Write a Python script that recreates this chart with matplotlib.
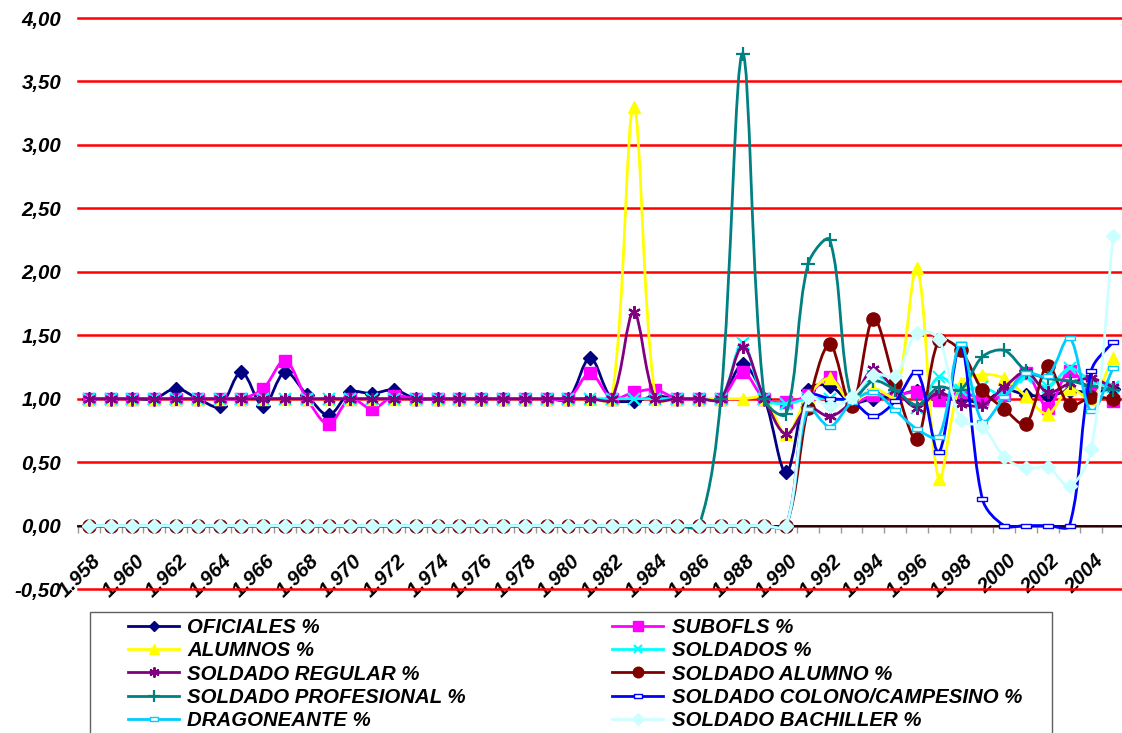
import numpy as np
import matplotlib
matplotlib.use('Agg')
import matplotlib.pyplot as plt
import matplotlib.transforms as mtransforms
from matplotlib.path import Path
from matplotlib.patches import PathPatch, Rectangle
from matplotlib.lines import Line2D
from matplotlib.font_manager import FontProperties

# ---- data (ratios by year) ----
years = list(range(1958, 2006))

oficiales = [1.00, 1.00, 1.00, 1.00, 1.08, 1.00, 0.94, 1.21, 0.94, 1.21,   # 1958-67
             1.03, 0.87, 1.05, 1.04, 1.07, 1.00, 1.00, 1.00, 1.00, 1.00,   # 1968-77
             1.00, 1.00, 1.00, 1.32, 1.00, 0.98, 1.02, 1.00, 1.00, 1.00,   # 1978-87
             1.27, 1.00, 0.42, 1.07, 1.10, 0.97, 1.00, 1.02, 1.06, 1.00,   # 1988-97
             1.00, 0.97, 1.07, 1.03, 1.02, 1.06, 1.05, 1.08]               # 1998-05
subofls = [1.00, 1.00, 1.00, 1.00, 1.00, 1.00, 1.00, 1.00, 1.08, 1.30,
           1.00, 0.80, 1.00, 0.92, 1.02, 1.00, 1.00, 1.00, 1.00, 1.00,
           1.00, 1.00, 1.00, 1.20, 1.00, 1.05, 1.07, 1.00, 1.00, 1.00,
           1.21, 1.00, 0.97, 1.03, 1.17, 0.97, 1.03, 1.03, 1.05, 0.99,
           1.05, 1.00, 1.03, 1.20, 0.93, 1.22, 1.05, 0.98]
alumnos = [1.00, 1.00, 1.00, 1.00, 1.00, 1.00, 1.00, 1.00, 1.00, 1.00,
           1.00, 1.00, 1.00, 1.00, 1.00, 1.00, 1.00, 1.00, 1.00, 1.00,
           1.00, 1.00, 1.00, 1.00, 1.00, 3.30, 1.00, 1.00, 1.00, 1.00,
           1.00, 1.00, 0.72, 1.02, 1.16, 0.97, 1.08, 1.02, 2.03, 0.37,
           1.12, 1.19, 1.16, 1.02, 0.88, 1.08, 1.00, 1.32]
soldados = [1.00, 1.00, 1.00, 1.00, 1.00, 1.00, 1.00, 1.00, 1.00, 1.00,
            1.00, 1.00, 1.00, 1.00, 1.00, 1.00, 1.00, 1.00, 1.00, 1.00,
            1.00, 1.00, 1.00, 1.00, 1.00, 1.00, 1.00, 1.00, 1.00, 1.00,
            1.44, 1.00, 0.96, 1.00, 1.00, 1.00, 1.18, 1.09, 0.93, 1.17,
            1.07, 1.09, 1.03, 1.17, 1.09, 1.24, 1.14, 1.09]
soldado_regular = [1.00, 1.00, 1.00, 1.00, 1.00, 1.00, 1.00, 1.00, 1.00, 1.00,
                   1.00, 1.00, 1.00, 1.00, 1.00, 1.00, 1.00, 1.00, 1.00, 1.00,
                   1.00, 1.00, 1.00, 1.00, 1.00, 1.68, 1.00, 1.00, 1.00, 1.00,
                   1.41, 1.00, 0.72, 0.93, 0.86, 0.98, 1.23, 1.07, 0.93, 1.05,
                   0.96, 0.95, 1.09, 1.21, 1.05, 1.12, 1.16, 1.09]
soldado_alumno = [0.00, 0.00, 0.00, 0.00, 0.00, 0.00, 0.00, 0.00, 0.00, 0.00,
                  0.00, 0.00, 0.00, 0.00, 0.00, 0.00, 0.00, 0.00, 0.00, 0.00,
                  0.00, 0.00, 0.00, 0.00, 0.00, 0.00, 0.00, 0.00, 0.00, 0.00,
                  0.00, 0.00, 0.00, 0.93, 1.43, 0.94, 1.63, 1.12, 0.68, 1.46,
                  1.38, 1.07, 0.92, 0.80, 1.26, 0.95, 1.01, 1.00]
soldado_profesional = [0.00, 0.00, 0.00, 0.00, 0.00, 0.00, 0.00, 0.00, 0.00, 0.00,
                       0.00, 0.00, 0.00, 0.00, 0.00, 0.00, 0.00, 0.00, 0.00, 0.00,
                       0.00, 0.00, 0.00, 0.00, 0.00, 0.00, 0.00, 0.00, 0.00, 1.00,
                       3.72, 1.00, 0.88, 2.06, 2.25, 1.00, 1.14, 1.07, 0.95, 1.09,
                       1.07, 1.33, 1.38, 1.22, 1.16, 1.14, 1.10, 1.07]
soldado_colono = [0.00, 0.00, 0.00, 0.00, 0.00, 0.00, 0.00, 0.00, 0.00, 0.00,
                  0.00, 0.00, 0.00, 0.00, 0.00, 0.00, 0.00, 0.00, 0.00, 0.00,
                  0.00, 0.00, 0.00, 0.00, 0.00, 0.00, 0.00, 0.00, 0.00, 0.00,
                  0.00, 0.00, 0.00, 1.02, 1.00, 0.98, 0.86, 0.98, 1.21, 0.58,
                  1.43, 0.21, 0.00, 0.00, 0.00, 0.00, 1.22, 1.45]
dragoneante = [0.00, 0.00, 0.00, 0.00, 0.00, 0.00, 0.00, 0.00, 0.00, 0.00,
               0.00, 0.00, 0.00, 0.00, 0.00, 0.00, 0.00, 0.00, 0.00, 0.00,
               0.00, 0.00, 0.00, 0.00, 0.00, 0.00, 0.00, 0.00, 0.00, 0.00,
               0.00, 0.00, 0.00, 0.92, 0.78, 0.97, 1.05, 0.91, 0.76, 0.70,
               1.43, 0.82, 1.01, 1.20, 1.18, 1.48, 0.90, 1.24]
soldado_bachiller = [0.00, 0.00, 0.00, 0.00, 0.00, 0.00, 0.00, 0.00, 0.00, 0.00,
                     0.00, 0.00, 0.00, 0.00, 0.00, 0.00, 0.00, 0.00, 0.00, 0.00,
                     0.00, 0.00, 0.00, 0.00, 0.00, 0.00, 0.00, 0.00, 0.00, 0.00,
                     0.00, 0.00, 0.00, 1.01, 0.94, 1.01, 1.19, 1.18, 1.52, 1.47,
                     0.83, 0.78, 0.54, 0.45, 0.46, 0.31, 0.60, 2.28]

year_labels = ['1.958', '1.960', '1.962', '1.964', '1.966', '1.968', '1.970', '1.972',
               '1.974', '1.976', '1.978', '1.980', '1.982', '1.984', '1.986', '1.988',
               '1.990', '1.992', '1.994', '1.996', '1.998', '2000', '2002', '2004']
y_ticks = [-0.5, 0.0, 0.5, 1.0, 1.5, 2.0, 2.5, 3.0, 3.5, 4.0]
y_labels = ['-0,50', '0,00', '0,50', '1,00', '1,50', '2,00', '2,50', '3,00', '3,50', '4,00']

# dash marker (small hollow bar) used by Excel for two of the series
dash = Path([(-1, -0.4), (1, -0.4), (1, 0.4), (-1, 0.4), (-1, -0.4)],
            [Path.MOVETO, Path.LINETO, Path.LINETO, Path.LINETO, Path.CLOSEPOLY])

# label, values, color, marker, markersize, marker face
series = [
    ('OFICIALES %', oficiales, '#000080', 'D', 7, None),
    ('SUBOFLS %', subofls, '#FF00FF', 's', 8.5, None),
    ('ALUMNOS %', alumnos, '#FFFF00', '^', 9, None),
    ('SOLDADOS %', soldados, '#00FFFF', 'x', 8, None),
    ('SOLDADO REGULAR %', soldado_regular, '#800080', (6, 2, 0), 9, None),
    ('SOLDADO ALUMNO %', soldado_alumno, '#800000', 'o', 9.5, None),
    ('SOLDADO PROFESIONAL %', soldado_profesional, '#008080', '+', 10, None),
    ('SOLDADO COLONO/CAMPESINO %', soldado_colono, '#0000FF', dash, 7, 'white'),
    ('DRAGONEANTE %', dragoneante, '#00CCFF', dash, 7, 'white'),
    ('SOLDADO BACHILLER %', soldado_bachiller, '#CCFFFF', 'D', 7.5, None),
]

W, H = 1122.0, 733.0
PX_X, PX_Y = 21.8, 126.9   # screen pixels per year / per unit, used for the smoothing


def smooth_path(x, y):
    """Excel style smoothed line: Bezier segments, tangents weighted by segment length"""
    pts = np.column_stack([x, y]).astype(float)
    scr = pts * [PX_X, PX_Y]
    n = len(pts)

    def seg(a, b):
        return np.hypot(*(scr[b] - scr[a]))

    verts = [pts[0]]
    codes = [Path.MOVETO]
    for i in range(n - 1):
        i0 = max(i - 1, 0)
        i3 = min(i + 2, n - 1)
        l01, l12, l23 = seg(i0, i), seg(i, i + 1), seg(i + 1, i3)
        f1 = l12 / (l01 + l12) / 3.0 if l01 + l12 > 0 else 0
        f2 = l12 / (l12 + l23) / 3.0 if l12 + l23 > 0 else 0
        c1 = pts[i] + (pts[i + 1] - pts[i0]) * f1
        c2 = pts[i + 1] - (pts[i3] - pts[i]) * f2
        verts += [c1, c2, pts[i + 1]]
        codes += [Path.CURVE4] * 3
    return Path(verts, codes)


font = FontProperties(family='Liberation Sans', weight='bold', style='italic', size=14.7)

fig = plt.figure(figsize=(11.22, 7.33), dpi=100)
ax = fig.add_axes([78 / W, 1 - 589 / H, 1046 / W, 571 / H])

handles = []
for i, (label, vals, color, marker, ms, mfc) in enumerate(series):
    z = 3 + i * 0.1
    ax.add_patch(PathPatch(smooth_path(years, vals), facecolor='none', edgecolor=color,
                           lw=2.0, zorder=z, capstyle='round', joinstyle='round'))
    face = mfc if mfc else color
    mew = 1.6 if marker in ('x', '+', (6, 2, 0)) else 1.0
    ax.plot(years, vals, linestyle='none', marker=marker, markersize=ms,
            markerfacecolor=face, markeredgecolor=color, markeredgewidth=mew, zorder=z + 0.05)
    handles.append(Line2D([], [], color=color, lw=2.0, marker=marker, markersize=ms * 0.8,
                          markerfacecolor=face, markeredgecolor=color, markeredgewidth=mew,
                          label=label))

ax.set_xlim(1957.5, 2005.5)
ax.set_ylim(-0.5, 4.0)

# spine position resets the ticks, so it goes before any tick styling
for side in ('left', 'right', 'top'):
    ax.spines[side].set_visible(False)
ax.spines['bottom'].set_position(('data', 0))
ax.spines['bottom'].set_color('black')
ax.spines['bottom'].set_linewidth(1.2)
ax.spines['bottom'].set_zorder(1.5)

ax.tick_params(axis='y', length=0, pad=12)
ax.tick_params(axis='x', which='major', length=0, pad=23)
ax.tick_params(axis='x', which='minor', length=5, width=1, color='#999999', direction='out')

ax.set_yticks(y_ticks)
ax.set_yticklabels(y_labels, fontproperties=font)
ax.set_xticks(np.arange(1957.5, 2006.0, 1.0), minor=True)
ax.set_xticks(years[::2])
ax.set_xticklabels(year_labels, fontproperties=font, rotation=45, ha='right',
                   va='center', rotation_mode='anchor')
offset = mtransforms.ScaledTranslation(0.09, 0, fig.dpi_scale_trans)
for lbl in ax.get_xticklabels():
    lbl.set_transform(lbl.get_transform() + offset)

ax.yaxis.grid(True, color='#FF0000', lw=1.8)
ax.xaxis.grid(False)
ax.set_axisbelow(True)
for gl in ax.get_ygridlines():
    gl.set_clip_on(False)

# legend: Excel fills rows, matplotlib fills columns
order = [0, 2, 4, 6, 8, 1, 3, 5, 7, 9]
fig.patches.append(Rectangle((90 / W, -0.05), (1052 - 90) / W, 0.05 + (733 - 612) / H,
                             transform=fig.transFigure, facecolor='white',
                             edgecolor='#606060', lw=1.0, zorder=0))
fig.legend([handles[k] for k in order], [handles[k].get_label() for k in order],
           ncol=2, loc='upper left', bbox_to_anchor=(128 / W, 1 - 618 / H, (1022 - 128) / W, 0),
           mode='expand', frameon=False, prop=font, handlelength=2.5, handletextpad=0.4,
           labelspacing=0.21, borderpad=0, borderaxespad=0, numpoints=1)

fig.savefig('out.png', dpi=100)
